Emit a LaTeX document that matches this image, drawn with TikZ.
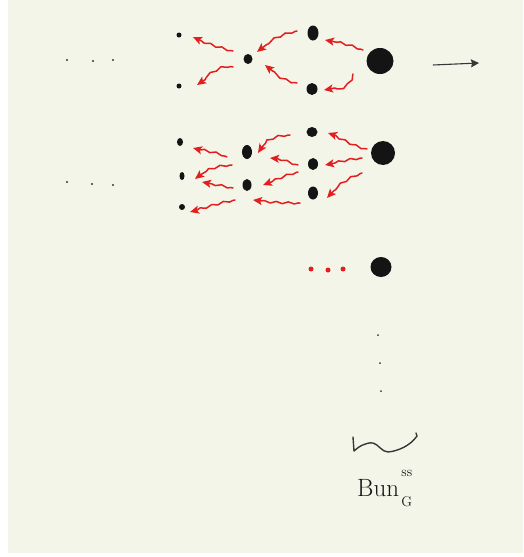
\documentclass[tikz,border=0pt]{standalone}
\usetikzlibrary{shapes.geometric,arrows.meta,decorations.pathmorphing,calc}
\definecolor{cream}{RGB}{244,245,233}
\definecolor{inkred}{RGB}{226,30,30}
\definecolor{ink}{RGB}{20,20,20}
\begin{document}
\begin{tikzpicture}[x=1pt,y=-1pt,
  blob/.style={ellipse,fill=ink,inner sep=0pt,draw=none},
  speck/.style={circle,fill=ink!85,inner sep=0pt,draw=none,minimum size=2.4pt},
  reddot/.style={circle,fill=inkred,inner sep=0pt,draw=none,minimum size=5pt},
  redarr/.style={draw=inkred,line width=1.5pt,line cap=round,line join=round,
    -{Stealth[length=9pt,width=8pt,inset=2pt]},
    decorate,decoration={snake,amplitude=1pt,segment length=12pt,pre length=2pt,post length=7pt}},
  blackarr/.style={draw=ink!85,line width=1.1pt,-{Stealth[length=8pt,width=8pt,inset=1pt]}},
  squig/.style={draw=ink!85,line width=1.4pt,line cap=round,line join=round},
  lbl/.style={inner sep=0pt,anchor=base west,text=ink}
]
\useasboundingbox (0,0) rectangle (523,557);
\fill[white] (0,0) rectangle (523,557);
\fill[cream] (8,0) rectangle (523,553);

% top group
\node[blob,minimum width=5pt,minimum height=5pt] (l1a) at (179,35) {};
\node[blob,minimum width=5pt,minimum height=5pt] (l1b) at (179,86) {};
\node[blob,minimum width=9pt,minimum height=10pt] (m1) at (248,59) {};
\node[blob,minimum width=11pt,minimum height=15pt] (r1a) at (313,33) {};
\node[blob,minimum width=11pt,minimum height=12pt] (r1b) at (312,89) {};
\node[blob,minimum width=27pt,minimum height=26pt] (big1) at (380,61) {};

% second group
\node[blob,minimum width=6pt,minimum height=8pt] (l2a) at (180,142) {};
\node[blob,minimum width=5pt,minimum height=8pt] (l2b) at (182,176) {};
\node[blob,minimum width=6pt,minimum height=6pt] (l2c) at (182,207) {};
\node[blob,minimum width=10pt,minimum height=14pt] (m2a) at (247,152) {};
\node[blob,minimum width=9pt,minimum height=12pt] (m2b) at (247,185) {};
\node[blob,minimum width=11pt,minimum height=10pt] (r2a) at (312,132) {};
\node[blob,minimum width=10pt,minimum height=12pt] (r2b) at (313,164) {};
\node[blob,minimum width=10pt,minimum height=13pt] (r2c) at (313,193) {};
\node[blob,minimum width=24pt,minimum height=24pt] (big2) at (383,153) {};

% third row
\node[reddot] (rd1) at (311,269) {};
\node[reddot] (rd2) at (328,270) {};
\node[reddot] (rd3) at (343,269) {};
\node[blob,minimum width=21pt,minimum height=20pt] (big3) at (381,267) {};

% left dots
\node[speck] (ld1) at (67,60) {};
\node[speck] (ld2) at (93,61) {};
\node[speck] (ld3) at (113,60) {};
\node[speck] (ld4) at (67,182) {};
\node[speck] (ld5) at (92,184) {};
\node[speck] (ld6) at (113,185) {};

% vertical dots
\node[speck,minimum size=2pt] (vd1) at (378,335) {};
\node[speck,minimum size=2pt] (vd2) at (380,363) {};
\node[speck,minimum size=2pt] (vd3) at (381,391) {};

% outgoing arrow
\coordinate (outend) at (479,63);
\draw[blackarr] ($(big1)+(53,4)$) -- (outend);

% red arrows, top group
\draw[redarr] ($(big1)+(-17,-11)$) .. controls +(-10,-4) and +(12,2) .. ($(r1a)+(12,7)$);
\draw[redarr] ($(big1)+(-27,13)$) .. controls +(-2,12) and +(12,-2) .. ($(r1b)+(12,1)$);
\draw[redarr] ($(r1a)+(-16,-2)$) .. controls +(-15,3) and +(12,-10) .. ($(m1)+(9,-7)$);
\draw[redarr] ($(r1b)+(-15,-6)$) .. controls +(-12,-2) and +(10,8) .. ($(m1)+(17,6)$);
\draw[redarr] ($(m1)+(-15,-8)$) .. controls +(-12,-3) and +(10,5) .. ($(l1a)+(14,2)$);
\draw[redarr] ($(m1)+(-15,8)$) .. controls +(-8,-3) and +(12,-8) .. ($(l1b)+(18,-1)$);

% red arrows, second group
\draw[redarr] ($(big2)+(-16,-4)$) .. controls +(-12,-2) and +(12,3) .. ($(r2a)+(16,1)$);
\draw[redarr] ($(big2)+(-21,5)$) .. controls +(-12,1) and +(12,-2) .. ($(r2b)+(12,1)$);
\draw[redarr] ($(big2)+(-21,20)$) .. controls +(-10,3) and +(8,-10) .. ($(r2c)+(14,5)$);
\draw[redarr] ($(r2a)+(-22,3)$) .. controls +(-12,0) and +(4,-10) .. ($(m2a)+(11,1)$);
\draw[redarr] ($(r2b)+(-15,1)$) .. controls +(-10,-3) and +(10,0) .. ($(m2a)+(23,6)$);
\draw[redarr] ($(r2b)+(-15,8)$) .. controls +(-12,3) and +(12,-4) .. ($(m2b)+(16,0)$);
\draw[redarr] ($(r2c)+(-13,10)$) .. controls +(-15,0) and +(15,2) .. ($(m2b)+(6,15)$);
\draw[redarr] ($(m2a)+(-20,5)$) .. controls +(-5,-3) and +(10,3) .. ($(l2a)+(13,6)$);
\draw[redarr] ($(m2a)+(-15,13)$) .. controls +(-10,0) and +(8,-8) .. ($(l2b)+(13,3)$);
\draw[redarr] ($(m2b)+(-14,3)$) .. controls +(-10,-2) and +(10,2) .. ($(l2b)+(20,6)$);
\draw[redarr] ($(m2b)+(-12,15)$) .. controls +(-12,2) and +(12,-3) .. ($(l2c)+(8,5)$);

% brace-like squiggle
\draw[squig] (353,437) -- (354,451) .. controls (358,447) and (366,442) .. (373,443)
  .. controls (378,444) and (382,452) .. (388,452)
  .. controls (398,451) and (410,446) .. (417,436) -- (416,433);

% label
\node[lbl] (bunlabel) at (357,496) {\fontsize{25}{25}\selectfont Bun\rlap{\raisebox{20pt}{\fontsize{14}{14}\selectfont\,ss}}\raisebox{-10pt}{\fontsize{14}{14}\selectfont\,G}};
\end{tikzpicture}
\end{document}
